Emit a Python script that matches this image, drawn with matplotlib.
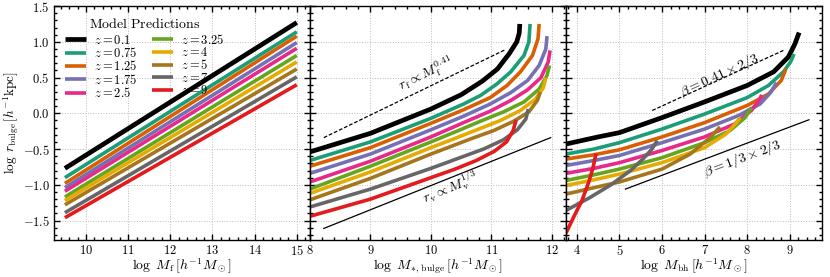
""" Bulge size predictions versus halo, bulge and black hole mass. """

import matplotlib
matplotlib.use("Agg")
import matplotlib.pyplot as plt
from matplotlib.ticker import AutoMinorLocator, FuncFormatter, MultipleLocator

plt.rcParams["mathtext.fontset"] = "cm"
plt.rcParams["font.family"] = ["DejaVu Serif"]

# redshifts and colours of the model curves
redshifts = ["0.1", "0.75", "1.25", "1.75", "2.5", "3.25", "4", "5", "7", "9"]
colors = ["#000000", "#1b9e77", "#d95f02", "#7570b3", "#e7298a",
          "#66a61e", "#e6ab02", "#a6761d", "#666666", "#e41a1c"]

# panel 1: log M_f vs log r_bulge (straight lines between end points)
mf_ends = [9.5, 15.0]
rb_mf = [
    [-0.77, 1.27], [-0.90, 1.14], [-0.98, 1.08], [-1.04, 0.99], [-1.09, 0.91],
    [-1.17, 0.81], [-1.22, 0.72], [-1.28, 0.62], [-1.39, 0.51], [-1.46, 0.40],
]

# panel 2: log M_*,bulge vs log r_bulge
mstar = [
    [8, 9, 10, 10.5, 10.85, 11.1, 11.3, 11.42, 11.46, 11.47],
    [8, 9, 10, 10.54, 10.82, 11.09, 11.32, 11.54, 11.62, 11.64],
    [8, 9, 10, 10.54, 10.98, 11.26, 11.48, 11.68, 11.77, 11.79],
    [8, 9, 10, 10.54, 10.98, 11.32, 11.6, 11.79, 11.9, 11.92],
    [8, 9, 10, 10.54, 10.98, 11.32, 11.6, 11.82, 11.94, 11.97],
    [8, 9, 10, 10.43, 10.82, 11.2, 11.54, 11.79, 11.92, 11.96],
    [8, 9, 10, 10.37, 10.76, 11.15, 11.48, 11.73, 11.86, 11.9],
    [8, 9, 10, 10.65, 11.04, 11.37, 11.62, 11.76, 11.81],
    [8, 9, 10, 10.45, 10.87, 11.2, 11.43, 11.57, 11.61],
    [8, 9, 10, 10.4, 10.75, 11.05, 11.25, 11.36, 11.41],
]
rb_mstar = [
    [-0.54, -0.28, 0.06, 0.26, 0.45, 0.62, 0.84, 1.0, 1.12, 1.25],
    [-0.66, -0.40, -0.07, 0.13, 0.25, 0.41, 0.58, 0.81, 1.0, 1.25],
    [-0.74, -0.48, -0.14, 0.05, 0.22, 0.39, 0.58, 0.81, 1.04, 1.25],
    [-0.84, -0.57, -0.23, -0.04, 0.13, 0.29, 0.46, 0.67, 0.90, 1.08],
    [-0.96, -0.67, -0.33, -0.13, 0.03, 0.18, 0.33, 0.50, 0.72, 0.88],
    [-1.06, -0.74, -0.40, -0.25, -0.11, 0.02, 0.16, 0.34, 0.53, 0.67],
    [-1.12, -0.82, -0.48, -0.36, -0.23, -0.10, 0.04, 0.20, 0.36, 0.50],
    [-1.21, -0.91, -0.57, -0.36, -0.24, -0.11, 0.02, 0.18, 0.30],
    [-1.31, -1.06, -0.77, -0.63, -0.50, -0.37, -0.23, -0.08, 0.06],
    [-1.44, -1.20, -0.90, -0.78, -0.66, -0.53, -0.40, -0.24, -0.09],
]

# panel 3: log M_bh vs log r_bulge
mbh = [
    [3.74, 4.5, 5, 6, 7, 8, 8.62, 8.97, 9.12, 9.22],
    [3.74, 4.4, 5, 6, 7, 8, 8.5, 8.85, 9.02, 9.1],
    [3.74, 4.4, 5, 6, 7, 8, 8.5, 8.8, 8.91],
    [3.74, 4.4, 5, 6, 7, 7.8, 8.3, 8.55, 8.69],
    [3.74, 4.4, 5, 6, 7, 7.7, 8.1, 8.3, 8.34],
    [3.74, 4.4, 5, 6, 7, 7.6, 7.95, 8.1],
    [3.74, 4.4, 5, 6, 7, 7.5, 7.75, 7.83],
    [3.74, 4.4, 5, 6, 6.66, 7.13, 7.36],
    [3.74, 4.3, 4.8, 5.26, 5.55, 5.75, 5.89],
    [3.74, 3.95, 4.12, 4.28, 4.38, 4.45],
]
rb_mbh = [
    [-0.43, -0.33, -0.27, -0.06, 0.16, 0.39, 0.58, 0.79, 0.97, 1.13],
    [-0.57, -0.50, -0.41, -0.22, -0.01, 0.22, 0.39, 0.58, 0.72, 0.83],
    [-0.64, -0.58, -0.51, -0.33, -0.13, 0.11, 0.27, 0.46, 0.62],
    [-0.73, -0.66, -0.59, -0.41, -0.22, -0.03, 0.13, 0.29, 0.43],
    [-0.84, -0.77, -0.69, -0.52, -0.33, -0.15, 0.04, 0.20, 0.26],
    [-0.94, -0.86, -0.78, -0.62, -0.41, -0.24, -0.06, 0.08],
    [-1.01, -0.93, -0.85, -0.69, -0.48, -0.29, -0.13, -0.06],
    [-1.13, -1.04, -0.96, -0.78, -0.57, -0.34, -0.19],
    [-1.36, -1.18, -1.00, -0.80, -0.64, -0.51, -0.38],
    [-1.68, -1.42, -1.22, -0.96, -0.76, -0.56],
]

# reference power laws: (x pair, y pair)
p2_dashed = ([8.23, 11.23], [-0.34, 0.89])
p2_solid = ([8.23, 11.98], [-1.61, -0.34])
p3_dashed = ([5.77, 8.85], [0.04, 0.88])
p3_solid = ([5.14, 9.45], [-1.06, -0.09])

xlims = [(9.24, 15.31), (8.0, 12.23), (3.74, 9.75)]
ylim = (-1.77, 1.5)
xlabels = [r"$\log\ M_{\rm f}\,[h^{-1}M_\odot]$",
           r"$\log\ M_{*,\,\rm bulge}\,[h^{-1}M_\odot]$",
           r"$\log\ M_{\rm bh}\,[h^{-1}M_\odot]$"]

fig, axes = plt.subplots(1, 3, figsize=(8.3, 2.77), dpi=100, sharey=True)
fig.subplots_adjust(left=0.065, right=0.990, bottom=0.134, top=0.978, wspace=0)


def lw(i):
    return 3.4 if i == 0 else 2.6


ax1, ax2, ax3 = axes
for i, c in enumerate(colors):
    ax1.plot(mf_ends, rb_mf[i], color=c, lw=lw(i), solid_capstyle="butt",
             label=r"$z=%s$" % redshifts[i])
    ax2.plot(mstar[i], rb_mstar[i], color=c, lw=lw(i), solid_capstyle="butt",
             solid_joinstyle="round")
    ax3.plot(mbh[i], rb_mbh[i], color=c, lw=lw(i), solid_capstyle="butt",
             solid_joinstyle="round")

ax2.plot(*p2_dashed, color="k", ls="--", lw=0.9, dashes=(3, 1.5))
ax2.plot(*p2_solid, color="k", lw=0.9)
ax3.plot(*p3_dashed, color="k", ls="--", lw=0.9, dashes=(3, 1.5))
ax3.plot(*p3_solid, color="k", lw=0.9)

txt = dict(fontsize=10, ha="center", va="center", rotation_mode="anchor")
ax2.text(9.93, 0.55, r"$r_{\rm f} \propto M_{\rm f}^{0.41}$", rotation=26, **txt)
ax2.text(10.32, -1.03, r"$r_{\rm v} \propto M_{\rm v}^{1/3}$", rotation=22, **txt)
ax3.text(7.36, 0.53, r"$\beta = 0.41\times2/3$", rotation=24.5, **txt)
ax3.text(7.88, -0.63, r"$\beta = 1/3\times2/3$", rotation=20.5, **txt)

leg = ax1.legend(ncol=2, loc="upper left", bbox_to_anchor=(0.0, 1.0),
                 frameon=False, fontsize=9, handlelength=1.65,
                 labelspacing=-0.05, columnspacing=1.2, handletextpad=0.65,
                 title=r"$\mathrm{Model\ Predictions}$", title_fontsize=10)
leg._legend_box.sep = 1

for ax, xl, lab in zip(axes, xlims, xlabels):
    ax.set_xlim(*xl)
    ax.set_ylim(*ylim)
    ax.xaxis.set_major_locator(MultipleLocator(1))
    ax.xaxis.set_minor_locator(AutoMinorLocator(5))
    ax.yaxis.set_major_locator(MultipleLocator(0.5))
    ax.yaxis.set_minor_locator(AutoMinorLocator(5))
    ax.xaxis.set_major_formatter(FuncFormatter(lambda v, p: r"$%g$" % v))
    ax.yaxis.set_major_formatter(FuncFormatter(lambda v, p: r"$%.1f$" % v))
    ax.tick_params(which="both", direction="in", top=True, right=True,
                   labelsize=9, width=1.0, pad=3)
    ax.tick_params(which="major", length=4.5)
    ax.tick_params(which="minor", length=2.2)
    ax.grid(True, which="major", ls=":", color="#bbbbbb", lw=0.7)
    ax.set_xlabel(lab, fontsize=10, labelpad=-1)
    for s in ax.spines.values():
        s.set_linewidth(1.0)

ax1.set_ylabel(r"$\log\ r_{\rm bulge}\,[h^{-1}{\rm kpc}]$", fontsize=9.5, labelpad=1)

fig.savefig("out.png", dpi=100)
